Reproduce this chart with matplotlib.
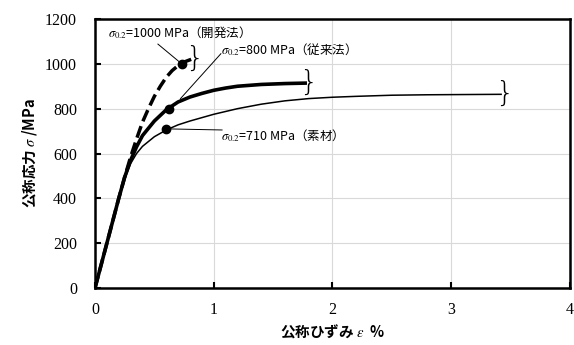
import matplotlib
matplotlib.use("Agg")
import matplotlib.pyplot as plt
from matplotlib.transforms import offset_copy

plt.rcParams['font.family'] = ['Noto Sans CJK JP', 'DejaVu Sans']
plt.rcParams['mathtext.fontset'] = 'stix'

# 素材 (base material)
base_strain = [0, 0.05, 0.1, 0.15, 0.2, 0.25, 0.3, 0.35, 0.4, 0.5, 0.6, 0.7, 0.8,
               1.0, 1.2, 1.4, 1.6, 1.8, 2.0, 2.2, 2.5, 2.8, 3.1, 3.42]
base_stress = [0, 100, 200, 300, 400, 485, 555, 600, 632, 675, 705, 728, 745,
               775, 800, 820, 835, 845, 851, 855, 860, 862, 863, 864]

# 従来法 (conventional)
conv_strain = [0, 0.1, 0.2, 0.25, 0.3, 0.35, 0.4, 0.5, 0.6, 0.7, 0.8, 0.9,
               1.0, 1.1, 1.2, 1.4, 1.6, 1.77]
conv_stress = [0, 200, 400, 495, 570, 630, 680, 745, 795, 830, 852, 868,
               882, 892, 900, 908, 912, 914]

# 開発法 (developed)
dev_strain = [0, 0.1, 0.2, 0.25, 0.3, 0.35, 0.4, 0.45, 0.5, 0.55, 0.6, 0.65,
              0.7, 0.75, 0.81]
dev_stress = [0, 200, 400, 495, 585, 665, 740, 800, 855, 900, 940, 970,
              992, 1008, 1020]

# 0.2% proof stress points
proof_strain = [0.73, 0.62, 0.60]
proof_stress = [1000, 800, 710]
proof_labels = ['=1000 MPa（開発法）', '=800 MPa（従来法）', '=710 MPa（素材）']

fig = plt.figure(figsize=(5.74, 3.45), dpi=100)
ax = fig.add_axes([0.1655, 0.165, 0.8275, 0.78])

ax.plot(base_strain, base_stress, color='black', lw=1.1)
ax.plot(conv_strain, conv_stress, color='black', lw=2.6)
ax.plot(dev_strain, dev_stress, color='black', lw=2.5, ls=(0, (3.5, 1.5)))
ax.plot(proof_strain, proof_stress, 'o', color='black', ms=6)

# break marks at curve ends
brace_tr = offset_copy(ax.transData, fig=fig, x=3, y=0, units='dots')
for xs, ys in [(dev_strain, dev_stress), (conv_strain, conv_stress), (base_strain, base_stress)]:
    ax.text(xs[-1], ys[-1], '}', family='DejaVu Sans', fontsize=21, fontweight='light',
            ha='center', va='center', transform=brace_tr)

# annotations
txt_pos = [(0.11, 1137), (1.06, 1065), (1.06, 680)]
line_start = [(0.53, 1088), (1.06, 1045), (1.07, 705)]
line_end = [(0.73, 1000), (0.72, 845), (0.60, 710)]
for (tx, ty), (sx, sy), (ex, ey), lab in zip(txt_pos, line_start, line_end, proof_labels):
    ax.plot([sx, ex], [sy, ey], color='black', lw=0.7)
    ax.text(tx, ty, r'$\mathit{\sigma_{0.2}}$' + lab, fontsize=9, ha='left', va='center')

ax.set_xlim(0, 4)
ax.set_ylim(0, 1200)
ax.set_xticks([0, 1, 2, 3, 4])
ax.set_yticks(range(0, 1201, 200))
ax.grid(color='#d9d9d9', lw=0.8)
ax.set_axisbelow(True)
for s in ax.spines.values():
    s.set_linewidth(1.8)
ax.tick_params(direction='in', length=4, width=1.5, labelsize=11.5, pad=10)
ax.tick_params(axis='y', pad=13)
for lab in ax.get_xticklabels() + ax.get_yticklabels():
    lab.set_family('Liberation Serif')

ax.set_xlabel(r'公称ひずみ $\mathit{\varepsilon}$  %', fontsize=10.5, fontweight='bold', labelpad=3)
ax.set_ylabel(r'公称応力 $\mathit{\sigma}$ /MPa', fontsize=10.5, fontweight='bold', labelpad=4)

fig.savefig('out.png', dpi=100)
